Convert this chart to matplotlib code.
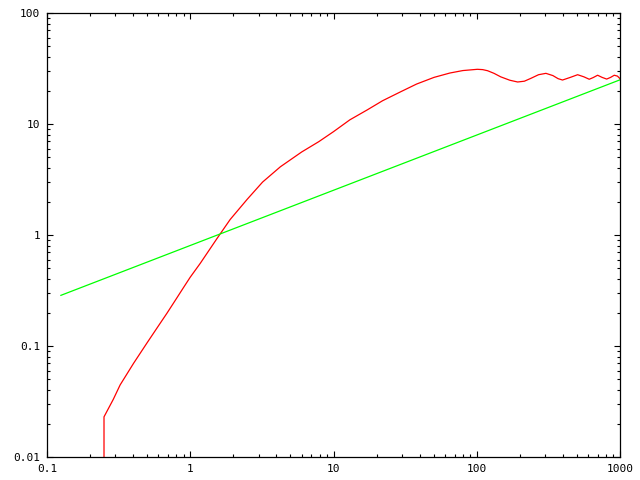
import matplotlib
matplotlib.use('Agg')
import matplotlib.pyplot as plt
from matplotlib.ticker import LogLocator, FixedLocator, NullFormatter

# red curve
red_x = [0.25, 0.25, 0.29, 0.324, 0.402, 0.5, 0.6, 0.687, 0.8, 0.897, 1.0, 1.175, 1.54,
         1.9, 2.5, 3.2, 4.26, 6.0, 7.89, 10.0, 13.0, 17.2, 22.0, 29.4, 38.0, 50.3, 65.0,
         80.0, 101, 110, 119, 132, 147, 170, 193, 215, 239, 270, 304, 340, 370, 397,
         450, 506, 560, 610, 650, 698, 750, 807, 860, 912, 960, 1000]
red_y = [0.01, 0.023, 0.033, 0.0446, 0.0698, 0.107, 0.152, 0.197, 0.267, 0.336, 0.417,
         0.556, 0.933, 1.38, 2.1, 3.0, 4.12, 5.6, 6.93, 8.53, 10.9, 13.4, 16.2, 19.5,
         22.9, 26.3, 28.8, 30.3, 31.1, 30.9, 30.2, 28.6, 26.6, 24.8, 23.9, 24.3, 25.8,
         27.8, 28.6, 27.3, 25.6, 24.9, 26.3, 27.8, 26.6, 25.3, 26.2, 27.5, 26.3, 25.4,
         26.3, 27.5, 27.0, 25.6]

# green straight line (log-log)
green_x = [0.125, 1000]
green_y = [0.286, 25.0]

xticks = [0.1, 1, 10, 100, 1000]
xlabels = ['0.1', '1', '10', '100', '1000']
yticks = [0.01, 0.1, 1, 10, 100]
ylabels = ['0.01', '0.1', '1', '10', '100']

fig = plt.figure(figsize=(6.4, 4.8), dpi=100)
ax = fig.add_axes([47 / 640, 23 / 480, 573 / 640, 444 / 480])

ax.plot(red_x, red_y, color='#ff0000', lw=0.9)
ax.plot(green_x, green_y, color='#00ff00', lw=0.9)

ax.set_xscale('log')
ax.set_yscale('log')
ax.set_xlim(0.1, 1000)
ax.set_ylim(0.01, 100)

ax.xaxis.set_major_locator(FixedLocator(xticks))
ax.yaxis.set_major_locator(FixedLocator(yticks))
ax.set_xticklabels(xlabels, family='DejaVu Sans Mono', fontsize=8)
ax.set_yticklabels(ylabels, family='DejaVu Sans Mono', fontsize=8)
ax.xaxis.set_minor_locator(LogLocator(base=10, subs=range(2, 10), numticks=20))
ax.yaxis.set_minor_locator(LogLocator(base=10, subs=range(2, 10), numticks=20))
ax.xaxis.set_minor_formatter(NullFormatter())
ax.yaxis.set_minor_formatter(NullFormatter())

ax.tick_params(which='both', direction='in', top=True, right=True, width=0.8)
ax.tick_params(which='major', length=4, pad=5)
ax.tick_params(which='minor', length=2.2)
for s in ax.spines.values():
    s.set_linewidth(0.9)

fig.savefig('out.png', dpi=100)
